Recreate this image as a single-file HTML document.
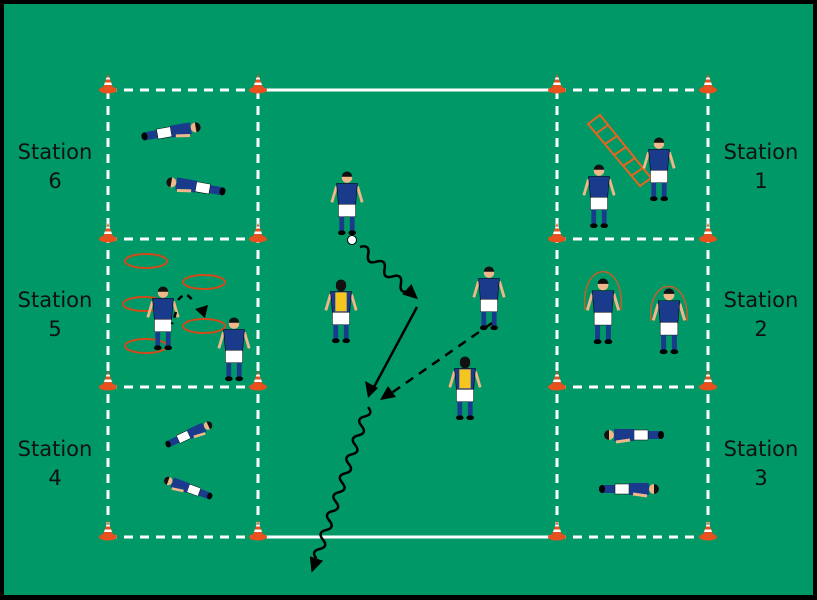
<!DOCTYPE html>
<html><head><meta charset="utf-8"><style>
html,body{margin:0;padding:0;background:#000}
svg{display:block}
text{font-family:"DejaVu Sans","Liberation Sans",sans-serif;font-size:21px;fill:#111}
</style></head><body>
<svg width="817" height="600" viewBox="0 0 817 600" xmlns="http://www.w3.org/2000/svg">
<defs>
<g id="cone">
<ellipse cx="0" cy="0" rx="9" ry="3.5" fill="#e8501e"/>
<path d="M-6 0 L0 -16 L6 0 Z" fill="#e8501e"/>
<path d="M-4 -5 L4 -5 L3.2 -7.5 L-3.2 -7.5 Z M-2.2 -10.5 L2.2 -10.5 L1.5 -12.5 L-1.5 -12.5Z" fill="#fff"/>
</g>
<g id="pb">
<line x1="-11" y1="15" x2="-16" y2="32" stroke="#f0b888" stroke-width="3"/>
<line x1="11" y1="15" x2="16" y2="32" stroke="#f0b888" stroke-width="3"/>
<path d="M-11 12 L11 12 L9 35 L-9 35Z" fill="#1a3a8c" stroke="#000" stroke-width=".6"/>
<rect x="-9" y="34" width="18" height="13" fill="#fff" stroke="#000" stroke-width=".5"/>
<rect x="-8" y="47" width="5" height="16" fill="#1a3a8c"/>
<rect x="3" y="47" width="5" height="16" fill="#1a3a8c"/>
<ellipse cx="-5.5" cy="64" rx="4" ry="2.5" fill="#000"/>
<ellipse cx="5.5" cy="64" rx="4" ry="2.5" fill="#000"/>
<circle cx="0" cy="6" r="5.5" fill="#f0b888"/>
<path d="M-5.5 5 A5.5 5.5 0 0 1 5.5 5 Z" fill="#111"/>
</g>
<g id="py">
<use href="#pb"/>
<path d="M-6 13 L6 13 L6 33 L-6 33Z" fill="#f5c520"/>
<path d="M-5.5 6 A5.5 5.5 0 0 1 5.5 6 A5.5 6 0 0 1 -5.5 6Z" fill="#111"/>
</g>
<g id="lie">
<rect x="-30" y="-4" width="12" height="8" fill="#1a3a8c"/>
<rect x="-18" y="-5" width="14" height="10" fill="#fff" stroke="#000" stroke-width=".5"/>
<rect x="-4" y="-6" width="20" height="12" fill="#1a3a8c"/>
<line x1="0" y1="5" x2="14" y2="7" stroke="#f0b888" stroke-width="3"/>
<circle cx="21" cy="0" r="5" fill="#f0b888"/>
<path d="M21 -5 A5 5 0 0 1 21 5Z" fill="#111"/>
<ellipse cx="-31" cy="0" rx="3" ry="4" fill="#000"/>
</g>
</defs>
<rect x="4" y="4" width="809" height="591" fill="#009866"/>
<g stroke="#fff" stroke-width="3" fill="none">
<line x1="258" y1="90" x2="557" y2="90"/>
<line x1="258" y1="537" x2="557" y2="537"/>
<g stroke-dasharray="9 7">
<line x1="108" y1="90" x2="258" y2="90"/><line x1="557" y1="90" x2="708" y2="90"/>
<line x1="108" y1="239" x2="258" y2="239"/><line x1="557" y1="239" x2="708" y2="239"/>
<line x1="108" y1="387" x2="258" y2="387"/><line x1="557" y1="387" x2="708" y2="387"/>
<line x1="108" y1="537" x2="258" y2="537"/><line x1="557" y1="537" x2="708" y2="537"/>
<line x1="108" y1="90" x2="108" y2="537"/><line x1="258" y1="90" x2="258" y2="537"/>
<line x1="557" y1="90" x2="557" y2="537"/><line x1="708" y1="90" x2="708" y2="537"/>
</g></g>
<g>
<use href="#cone" x="108" y="90"/><use href="#cone" x="258" y="90"/><use href="#cone" x="557" y="90"/><use href="#cone" x="708" y="90"/>
<use href="#cone" x="108" y="239"/><use href="#cone" x="258" y="239"/><use href="#cone" x="557" y="239"/><use href="#cone" x="708" y="239"/>
<use href="#cone" x="108" y="387"/><use href="#cone" x="258" y="387"/><use href="#cone" x="557" y="387"/><use href="#cone" x="708" y="387"/>
<use href="#cone" x="108" y="537"/><use href="#cone" x="258" y="537"/><use href="#cone" x="557" y="537"/><use href="#cone" x="708" y="537"/>
</g>
<text x="55" y="159" text-anchor="middle">Station</text><text x="55" y="188" text-anchor="middle">6</text>
<text x="55" y="307" text-anchor="middle">Station</text><text x="55" y="336" text-anchor="middle">5</text>
<text x="55" y="456" text-anchor="middle">Station</text><text x="55" y="485" text-anchor="middle">4</text>
<text x="761" y="159" text-anchor="middle">Station</text><text x="761" y="188" text-anchor="middle">1</text>
<text x="761" y="307" text-anchor="middle">Station</text><text x="761" y="336" text-anchor="middle">2</text>
<text x="761" y="456" text-anchor="middle">Station</text><text x="761" y="485" text-anchor="middle">3</text>
<g fill="none" stroke="#d04a1a" stroke-width="2">
<ellipse cx="146" cy="261" rx="21" ry="7"/><ellipse cx="204" cy="282" rx="21" ry="7"/>
<ellipse cx="144" cy="304" rx="21" ry="7"/><ellipse cx="204" cy="326" rx="21" ry="7"/>
<ellipse cx="146" cy="346" rx="21" ry="7"/>
</g>
<g fill="none" stroke="#e8641e" stroke-width="2">
<path d="M588 124 L640 186 L651 178 L600 115 Z"/>
<path d="M597 133 L608 125 M605 144 L617 136 M614 155 L626 147 M623 166 L635 158 M631 176 L643 168"/>
</g>
<g fill="none" stroke="#c0602a" stroke-width="1.5">
<path d="M585 310 C580 260 625 258 621 310"/>
<path d="M651 321 C647 275 690 275 687 321"/>
</g>
<g transform="translate(347,172) scale(0.95)"><use href="#pb"/></g>
<circle cx="352" cy="240" r="4.5" fill="#fff" stroke="#000"/>
<g transform="translate(341,280) scale(0.95)"><use href="#py"/></g>
<g transform="translate(489,267) scale(0.95)"><use href="#pb"/></g>
<g transform="translate(465,357) scale(0.95)"><use href="#py"/></g>
<g transform="translate(599,165) scale(0.95)"><use href="#pb"/></g>
<g transform="translate(659,138) scale(0.95)"><use href="#pb"/></g>
<g transform="translate(603,279) scale(0.98)"><use href="#pb"/></g>
<g transform="translate(669,289) scale(0.98)"><use href="#pb"/></g>
<g transform="translate(163,287) scale(0.95)"><use href="#pb"/></g>
<g transform="translate(234,318) scale(0.95)"><use href="#pb"/></g>
<g transform="translate(175,131) rotate(-10)"><use href="#lie"/></g>
<g transform="translate(192,186) rotate(190) scale(1,-1)"><use href="#lie"/></g>
<g transform="translate(630,435) rotate(180) scale(1,-1)"><use href="#lie"/></g>
<g transform="translate(633,489)"><use href="#lie"/></g>
<g transform="translate(192,433) rotate(-25) scale(0.85)"><use href="#lie"/></g>
<g transform="translate(185,487) rotate(200) scale(0.85,-0.85)"><use href="#lie"/></g>
<g stroke="#000" stroke-width="2.5" fill="none">
<g transform="translate(360,247) rotate(42)"><path d="M0 0 q5.5 -9 11 0 t11 0 t11 0 t11 0 t11 0 t11 0"/></g>
<line x1="417" y1="307" x2="374" y2="387"/>
<line x1="492" y1="323" x2="390" y2="394" stroke-dasharray="9 7"/>
<g transform="translate(368,407) rotate(108.8)"><path d="M0 0 q5 -8 10 0 t10 0 t10 0 t10 0 t10 0 t10 0 t10 0 t10 0 t10 0 t10 0 t10 0 t10 0 t10 0 t10 0 t10 0 t10 0"/></g>
<path d="M178 300 q8 -10 14 0 M176 312 l-4 12" stroke-dasharray="6 5"/>
</g>
<g fill="#000">
<g transform="translate(360,247) rotate(42)"><path d="M78 0 L63 -7 L63 7Z"/></g>
<path d="M368 398 L365 381 L378 388Z"/>
<path d="M380 400 L388 386 L396 397Z"/>
<g transform="translate(368,407) rotate(108.8)"><path d="M175 0 L160 -7 L160 7Z"/></g>
<path d="M205 318 L195 309 L208 305Z"/>
</g>
</svg>
</body></html>
